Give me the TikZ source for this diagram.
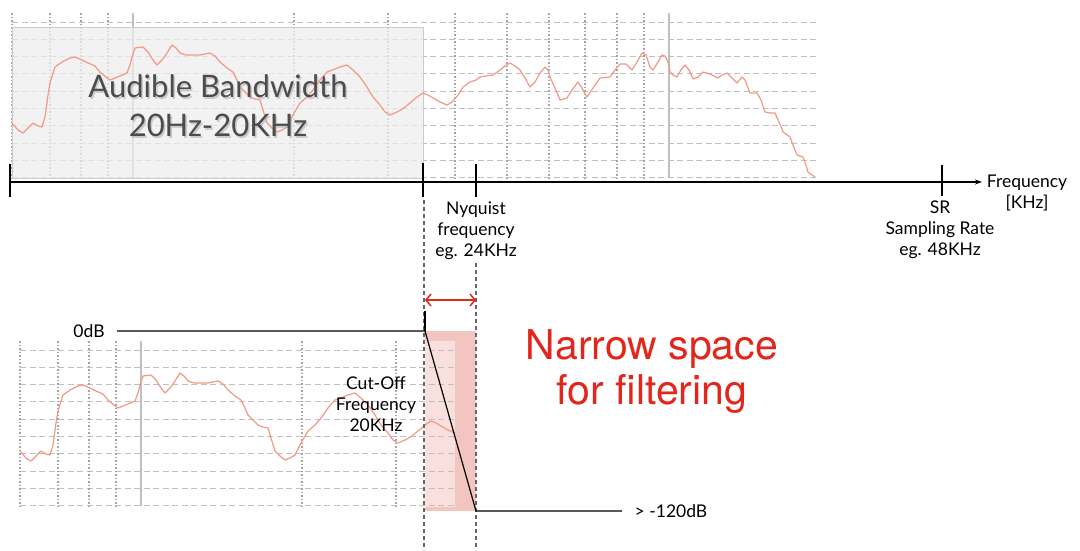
\documentclass[tikz,border=0pt]{standalone}
\usepackage{fontspec}
\setmainfont{Lato}
\newfontfamily\helv{TeX Gyre Heros}
\usetikzlibrary{arrows.meta}

\definecolor{specred}{RGB}{243,152,134}
\definecolor{pinkdark}{RGB}{243,197,193}
\definecolor{pinklight}{RGB}{249,224,222}
\definecolor{narrowred}{RGB}{226,38,28}
\definecolor{gridgray}{RGB}{192,192,192}
\definecolor{dotgray}{RGB}{165,165,165}

\tikzset{
  hgrid/.style={gridgray, line width=1pt, dash pattern=on 6pt off 3.5pt},
  vgrid/.style={dotgray, line width=1.2pt, dash pattern=on 1.5pt off 2pt},
  vmajor/.style={gridgray, line width=1.6pt},
  spec/.style={specred, line width=1.2pt, line join=round},
  axisline/.style={black, line width=1.2pt},
  guide/.style={black!60, line width=1.6pt, dash pattern=on 4pt off 3pt},
  lbl/.style={font=\fontsize{17.5}{21}\selectfont, align=center, inner sep=0pt},
  audtext/.style={font=\fontsize{31}{39}\selectfont, align=center, inner sep=0pt},
}

% grid of the measured response (local pixel coordinates)
\newcommand{\specgrid}{%
  \foreach \k in {0,...,9}
    \draw[hgrid] (12,{22+\k*17.33}) -- (817,{22+\k*17.33});
  \foreach \gx in {12,50,81,108,294,388,455,507,549,585,617,644}
    \draw[vgrid] (\gx,13) -- (\gx,178);
  \foreach \gx in {133,669}
    \draw[vmajor] (\gx,13) -- (\gx,178);
}
% the measured response itself
\newcommand{\speccurve}{%
  \draw[spec] (12,123) -- (18,130) -- (23,133) -- (28,128) -- (33,123) -- (38,126)
    -- (42,127) -- (45,117) -- (48,95) -- (50,83) -- (55,67) -- (62,62) -- (70,58)
    -- (75,57) -- (82,60) -- (88,63) -- (95,66) -- (100,72) -- (106,77) -- (110,80)
    -- (115,78) -- (120,76) -- (127,73) -- (130,65) -- (132,57) -- (135,48) -- (143,47)
    -- (148,52) -- (153,60) -- (157,65) -- (162,60) -- (167,53) -- (172,45) -- (176,48)
    -- (180,53) -- (186,55) -- (193,55) -- (200,55) -- (210,53) -- (215,56) -- (220,62)
    -- (227,68) -- (233,72) -- (237,80) -- (240,87) -- (245,92) -- (250,97) -- (255,99)
    -- (260,100) -- (263,110) -- (267,123) -- (272,128) -- (277,132) -- (282,130)
    -- (287,127) -- (293,115) -- (300,103) -- (307,97) -- (313,90) -- (320,80)
    -- (327,72) -- (335,69) -- (340,67) -- (347,65) -- (353,70) -- (360,77) -- (367,87)
    -- (373,97) -- (380,105) -- (385,112) -- (390,115) -- (397,112) -- (404,108)
    -- (410,103) -- (417,97) -- (423,93) -- (428,95) -- (433,98) -- (440,102)
    -- (447,105) -- (452,102) -- (458,95) -- (463,87) -- (470,82) -- (476,80)
    -- (480,77) -- (486,76) -- (493,75) -- (500,70) -- (505,66) -- (510,63) -- (515,66)
    -- (520,70) -- (525,78) -- (530,87) -- (535,82) -- (540,73) -- (545,67) -- (548,70)
    -- (550,77) -- (555,88) -- (560,100) -- (567,98) -- (572,90) -- (578,82) -- (582,88)
    -- (587,97) -- (593,88) -- (600,78) -- (610,77) -- (615,70) -- (620,64) -- (626,64)
    -- (632,70) -- (637,62) -- (642,53) -- (646,55) -- (650,67) -- (653,70) -- (658,62)
    -- (662,55) -- (665,56) -- (668,62) -- (670,72) -- (673,75) -- (677,77) -- (681,70)
    -- (685,65) -- (689,70) -- (693,79) -- (698,77) -- (703,72) -- (710,74) -- (718,78)
    -- (722,75) -- (727,73) -- (732,78) -- (737,83) -- (742,77) -- (745,80) -- (750,93)
    -- (757,93) -- (761,100) -- (765,112) -- (770,113) -- (775,113) -- (779,122)
    -- (783,132) -- (790,137) -- (793,145) -- (797,155) -- (803,157) -- (806,165)
    -- (808,172) -- (815,177);
}

\begin{document}
\begin{tikzpicture}[x=1pt,y=-1pt]
\useasboundingbox (0,0) rectangle (1080,550);

% top: full spectrum with the audible band
\specgrid
\fill[black!7, fill opacity=0.75] (12,27) rectangle (423,178);
\draw[black!20, line width=0.8pt] (12,27) rectangle (423,178);
\speccurve
\node[audtext, black!30, opacity=0.6] (audshadow) at (219.5,108) {Audible Bandwidth\\20Hz-20KHz};
\node[audtext, black!70] (audible) at (218,106) {Audible Bandwidth\\20Hz-20KHz};

% frequency axis
\coordinate (axstart) at (10,182);
\coordinate (axend) at (982,182);
\draw[axisline, -{Stealth[length=7pt,width=5pt]}] (axstart) -- (axend);
\draw[axisline] (10,164) -- (10,197);
\draw[axisline] (423,163) -- (423,197);
\draw[axisline] (476,164) -- (476,197);
\draw[axisline] (942,165) -- (942,196);
\node[lbl] (freq) at (1027,193) {Frequency\\{}[KHz]};
\node[lbl] (nyquist) at (476,231) {Nyquist\\frequency\\eg. 24KHz};
\node[lbl] (srate) at (940,230) {SR\\Sampling Rate\\eg. 48KHz};

% bottom: filtered spectrum
\fill[pinkdark] (425,331) rectangle (476,511);
\fill[pinklight] (425,341) rectangle (455,507);
\begin{scope}[shift={(8,328)}]
  \clip (11,0) rectangle (447,200);
  \specgrid
  \speccurve
\end{scope}

% guides at cut-off and Nyquist
\coordinate (cuttop) at (424,200);
\coordinate (cutbot) at (424,550);
\coordinate (nyqtop) at (476,263);
\coordinate (nyqbot) at (476,550);
\draw[guide] (cuttop) -- (cutbot);
\draw[guide] (nyqtop) -- (nyqbot);

% filter response
\coordinate (zerodb) at (117,331);
\coordinate (cuttick) at (425,311);
\coordinate (cutoff) at (425,331);
\coordinate (stopband) at (476,511);
\coordinate (floor) at (622,511);
\draw[axisline] (cuttick) -- (cutoff);
\draw[axisline, line join=round] (zerodb) -- (cutoff) -- (stopband) -- (floor);
\node[lbl] (zerolbl) at (89,331) {0dB};
\node[lbl] (floorlbl) at (671,511) {> -120dB};
\node[lbl] (cutlbl) at (376,404) {Cut-Off\\Frequency\\20KHz};

% transition band
\coordinate (bandl) at (425,300);
\coordinate (bandr) at (476,300);
\draw[narrowred, line width=1.5pt, {Straight Barb[length=5pt,width=12pt]}-{Straight Barb[length=5pt,width=12pt]}] (bandl) -- (bandr);
\node[font=\helv\fontsize{41}{45}\selectfont, text=narrowred, align=center, inner sep=0pt] (narrow) at (652,372) {Narrow space\\for filtering};
\end{tikzpicture}
\end{document}
